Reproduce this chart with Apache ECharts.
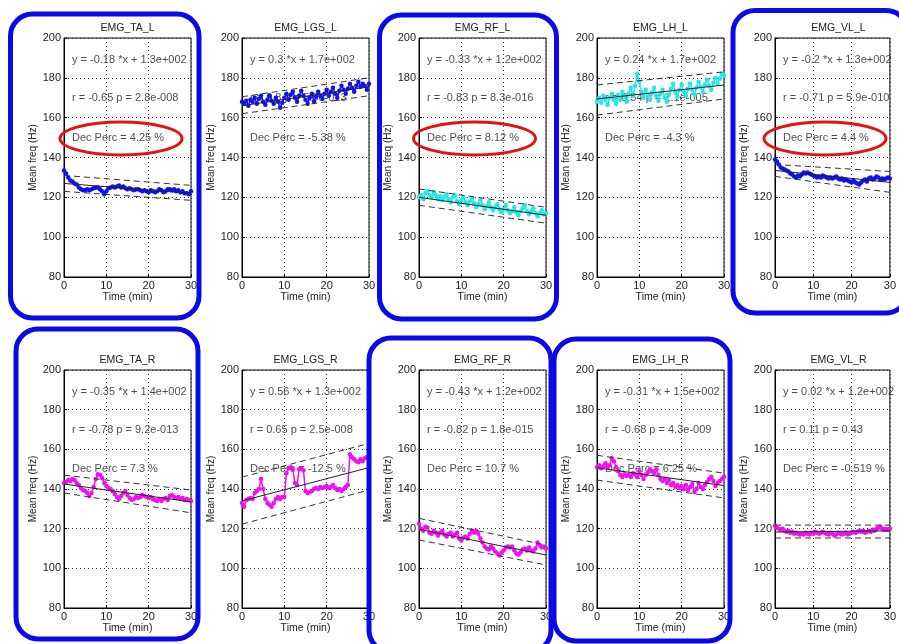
<!DOCTYPE html>
<html><head><meta charset="utf-8">
<script src="https://cdn.jsdelivr.net/npm/echarts@6/dist/echarts.min.js"></script>
<style>html,body{margin:0;padding:0;background:#fff}#c{width:899px;height:644px}</style>
</head><body><div id="c"></div>
<script>
// ---- data ----
const TIME = [0,0.5,1,1.5,2,2.5,3,3.5,4,4.5,5,5.5,6,6.5,7,7.5,8,8.5,9,9.5,10,10.5,11,11.5,12,12.5,13,13.5,14,14.5,15,15.5,16,16.5,17,17.5,18,18.5,19,19.5,20,20.5,21,21.5,22,22.5,23,23.5,24,24.5,25,25.5,26,26.5,27,27.5,28,28.5,29,29.5,30];
const X_TICKS = [0,10,20,30];
const Y_TICKS = [80,100,120,140,160,180,200];
const TITLES = ['EMG_TA_L','EMG_LGS_L','EMG_RF_L','EMG_LH_L','EMG_VL_L','EMG_TA_R','EMG_LGS_R','EMG_RF_R','EMG_LH_R','EMG_VL_R'];
const EQ_TEXT = ['y = -0.18 *x + 1.3e+002','y = 0.3 *x + 1.7e+002','y = -0.33 *x + 1.2e+002','y = 0.24 *x + 1.7e+002','y = -0.2 *x + 1.3e+002','y = -0.35 *x + 1.4e+002','y = 0.56 *x + 1.3e+002','y = -0.43 *x + 1.2e+002','y = -0.31 *x + 1.5e+002','y = 0.02 *x + 1.2e+002'];
const R_TEXT = ['r = -0.65 p = 2.8e-008','r = 0.8 p = 5.5e-013','r = -0.83 p = 8.3e-016','r = 0.54 p = 1.1e-005','r = -0.71 p = 5.9e-010','r = -0.78 p = 9.2e-013','r = 0.65 p = 2.5e-008','r = -0.82 p = 1.8e-015','r = -0.68 p = 4.3e-009','r = 0.11 p = 0.43'];
const DEC_TEXT = ['Dec Perc = 4.25 %','Dec Perc = -5.38 %','Dec Perc = 8.12 %','Dec Perc = -4.3 %','Dec Perc = 4.4 %','Dec Perc = 7.3 %','Dec Perc = -12.5 %','Dec Perc = 10.7 %','Dec Perc = 6.25 %','Dec Perc = -0.519 %'];
const TEXT_Y = [189,170,150];

const TA_L = [133.5,132,130,128.5,128,127,126.5,125,124,123.5,123.5,124,123.5,124,124.5,125,125,124,123,121.5,123,124.5,125,125.5,125,125.5,126,125,125.5,124.5,124,124.5,124,123.5,124,124,123.5,123,123.5,123,122.5,123.5,123,122.5,123,124,123.5,122.5,123,124,124,123.5,124,123,123.5,122.5,123,122,122,121.5,123];
const LGS_L = [168,167,168.5,166,169,168,170,167,169.5,171,168,166.5,169,171,168.5,167,170,168,165,167.5,170,172,169,171.5,173,170,168,171,173.5,171,169,167,170,172,168,170.5,173,171,169.5,172,174,171,173,175,172,170,173.5,176,174,172,174.5,177,175,173,176,178,175.5,177,176,174,177];
const RF_L = [120,121,119,122,123,121,120,122.5,121,119,120.5,118.5,120,121.5,119,117.5,120,121,118,116.5,118.5,120,117.5,116,118,119.5,117,115,116.5,118.5,116,114,115.5,117.5,115,113.5,115,116.5,114,112.5,114,116,113.5,112,113,115,112.5,111,113,114.5,116,113,111.5,113,114.5,112,110.5,112,113.5,111.5,112];
const LH_L = [168,170,167.5,171,169,166.5,170,172,169,167,171.5,169,173,170.5,168,172,175,171,176,182,178,173,170,174,171.5,169,172.5,175,171,168.5,172,174,170,168,171.5,174.5,177,173,170.5,174,176.5,173,171,174.5,177,174,171.5,175,178,175.5,173,176.5,179,176,174,177.5,180,177,179.5,182,181];
const VL_L = [139,138,136.5,135,134.5,134,133.5,133,132,131.5,130.5,130,131,130.5,131.5,132.5,132,132.5,132,131.5,131,130.5,130,130.5,130,131,130.5,130,129.5,130,129.5,130,130.5,129.5,129,129.5,128.5,129,128.5,128,127.5,128.5,127.5,127,126.5,127.5,128.5,129,128,129.5,130,129,129.5,130.5,130,129,129.5,129,129.5,130,129.5];
const TA_R = [143,143.5,144.5,144,145,144.5,143,142,140.5,139.5,139,138,136.5,138,141,145,147.5,147,145.5,143,141.5,140.5,140,139,137.5,136,135,136.5,138,139,137,135.5,134.5,135,136,135.5,136,137,136.5,136,135.5,136,135,134.5,134,135,134,135,135.5,134.5,136.5,137,136,135.5,136,135,135.5,134.5,135,134.5,134];
const LGS_R = [133,131,134.5,135,135.5,135,138,139,140,145,140,135,133,132,131,133,135,136,135,136,136,148,150.5,151,150,143,142,150,150.5,149.5,139,138,138.5,139,140,140.5,140,141,140.5,141,141.5,140.5,141,142,140.5,139.5,140,139,140,141,142,157.5,156,155,154,153.5,155,154,155.5,156,155];
const RF_R = [122.5,120,119,121,120.5,118,117.5,119,118,116.5,118,119,117,116,117.5,118,116,117,118,115,114,115.5,116,115,117.5,119,118,119,117.5,115,113,111,110,109.5,111,110,108.5,107.5,106.5,108,109,110.5,111,110.5,111,109,107.5,107,108,109.5,110,109,110.5,109,108.5,110,113,111.5,110.5,111,110];
const LH_R = [151,152,150.5,151.5,153,151,152,155.5,154,151,149,147,146,147.5,146.5,147,146,148,147.5,146,149,147,145,147,148.5,150,149,148,150,147,145,144,145,143,144.5,142,143,141,142,140.5,141.5,140,142,139.5,141,142.5,138.5,140,143,141,140,142,143.5,145,146,144,141.5,143,144,145,146];
const VL_R = [121.5,120.5,120,119.5,120,119,118.5,119,118,118.5,117.5,118,117.5,117,117.5,117,118,117.5,117,118,117.5,118.5,118,117.5,118,118.5,118,117.5,117,118,117.5,116.5,117,118,117.5,117,117.5,118,117,117.5,118,118.5,118,118.5,119,118.5,119,118,118.5,119,118.5,119.5,119,120,120.5,121,120,119.5,120,119.5,120];
const SERIES_VALUES = [TA_L, LGS_L, RF_L, LH_L, VL_L, TA_R, LGS_R, RF_R, LH_R, VL_R];
// regression line and confidence bounds: [value at t=0, value at t=30]
const FIT   = [[127,122],[166,175.5],[120,111],[169.4,176.4],[133.5,127.5],[142.5,133.5],[134,150.8],[119.7,106.7],[150.7,141.7],[118.3,118.9]];
const UPPER = [[131,126],[170.5,180],[124.2,115],[176.4,183],[136.5,133],[147,139.5],[146,163],[125.2,111.7],[157,148],[121.8,121.8]];
const LOWER = [[123,118.5],[162,171],[116,107],[161.3,169.4],[130.5,122.5],[138,128],[122.3,139.5],[114.3,101.7],[144.5,135.5],[115.3,115.3]];

// ---- styles / layout ----
const COLORS = ['#1010f0','#1010f0','#20e8e8','#20e8e8','#1010f0','#f010f0','#f010f0','#f010f0','#f010f0','#f010f0'];
const COL_LEFT = [64, 242, 419, 597, 775];
const PLOT_W = 127;
const ROW_TOP = [38, 370];
const ROW_H = [239, 238];
const FONT = 'Liberation Sans, Arial, sans-serif';

const grids = [], xAxes = [], yAxes = [], series = [], graphics = [];
for (let i = 0; i < 10; i++) {
  const r = Math.floor(i / 5), c = i % 5;
  grids.push({left: COL_LEFT[c], top: ROW_TOP[r], width: PLOT_W, height: ROW_H[r],
    show: true, borderColor: '#000', borderWidth: 1, backgroundColor: '#fff'});
  xAxes.push({gridIndex: i, type: 'value', min: X_TICKS[0], max: X_TICKS[X_TICKS.length-1], interval: 10,
    name: 'Time (min)', nameLocation: 'middle', nameGap: 15,
    nameTextStyle: {fontFamily: FONT, fontSize: 10.5, color: '#222'},
    axisLine: {onZero: false, lineStyle: {color: '#000'}},
    axisTick: {inside: true, length: 3, lineStyle: {color: '#000'}},
    axisLabel: {fontFamily: FONT, fontSize: 11, color: '#222', margin: 3},
    splitLine: {show: true, lineStyle: {color: '#333', type: [1, 3], width: 1}}});
  yAxes.push({gridIndex: i, type: 'value', min: Y_TICKS[0], max: Y_TICKS[Y_TICKS.length-1], interval: 20,
    name: 'Mean freq (Hz)', nameLocation: 'middle', nameGap: 26, nameRotate: 90,
    nameTextStyle: {fontFamily: FONT, fontSize: 10, color: '#222'},
    axisLine: {onZero: false, lineStyle: {color: '#000'}},
    axisTick: {inside: true, length: 3, lineStyle: {color: '#000'}},
    axisLabel: {fontFamily: FONT, fontSize: 11, color: '#222', margin: 3},
    splitLine: {show: true, lineStyle: {color: '#333', type: [1, 3], width: 1}}});
  // annotation texts (behind data)
  series.push({type: 'scatter', xAxisIndex: i, yAxisIndex: i, symbolSize: 0, silent: true, z: 1,
    data: [EQ_TEXT[i], R_TEXT[i], DEC_TEXT[i]].map((t, k) => ({value: [0, TEXT_Y[k]], label: {formatter: t}})),
    label: {show: true, position: 'right', distance: 8, fontFamily: FONT, fontSize: 11, color: '#222'}});
  const vals = SERIES_VALUES[i];
  series.push({type: 'line', xAxisIndex: i, yAxisIndex: i, z: 3, silent: true,
    data: TIME.map((t, k) => [t, vals[k]]),
    symbol: 'circle', symbolSize: 4.5, showSymbol: true,
    itemStyle: {color: COLORS[i]}, lineStyle: {color: COLORS[i], width: 1.5}});
  series.push({type: 'line', xAxisIndex: i, yAxisIndex: i, z: 4, silent: true, symbol: 'none',
    data: [[0, FIT[i][0]], [30, FIT[i][1]]], lineStyle: {color: '#222', width: 1}});
  [UPPER, LOWER].forEach(B => series.push({type: 'line', xAxisIndex: i, yAxisIndex: i, z: 4, silent: true, symbol: 'none',
    data: [[0, B[i][0]], [30, B[i][1]]], lineStyle: {color: '#333', width: 1, type: [6, 4]}}));
  graphics.push({type: 'text', z: 10, x: COL_LEFT[c] + PLOT_W / 2, y: ROW_TOP[r] - 10,
    style: {text: TITLES[i], fontFamily: FONT, fontSize: 10.5, fill: '#222', textAlign: 'center', textVerticalAlign: 'middle'}});
}
// highlight frames and ellipses
const FRAMES = [[10.5,14,188.5,304],[379.5,15,177,304],[733,10.5,175,302.5],[16,329,182,310],[369,338,182,314],[554,339,176,302]];
FRAMES.forEach(f => graphics.push({type: 'rect', z: 20, shape: {x: f[0], y: f[1], width: f[2], height: f[3], r: 22},
  style: {fill: 'none', stroke: '#0a0ae6', lineWidth: 5}}));
const ELLIPSES = [[121,138.5],[474.5,138.5],[825,138.5]];
ELLIPSES.forEach(e => graphics.push({type: 'ellipse', z: 20, shape: {cx: e[0], cy: e[1], rx: 61, ry: 16.5},
  style: {fill: 'none', stroke: '#e81010', lineWidth: 3}}));

const chart = echarts.init(document.getElementById('c'), null, {renderer: 'canvas'});
chart.setOption({animation: false, backgroundColor: '#fff', grid: grids, xAxis: xAxes, yAxis: yAxes, series: series, graphic: graphics});
</script></body></html>
